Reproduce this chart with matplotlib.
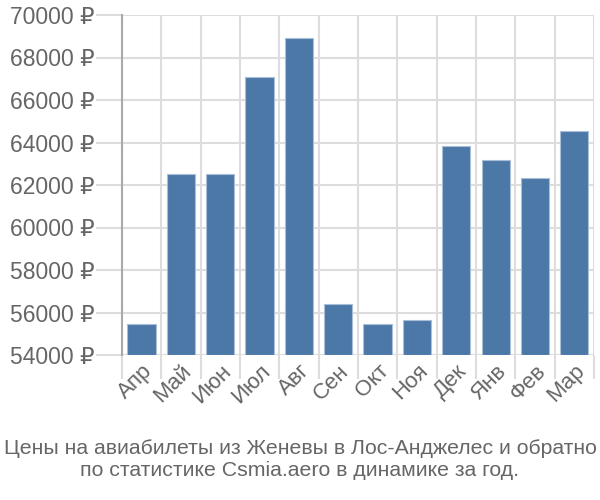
import matplotlib
matplotlib.use("Agg")
import matplotlib.pyplot as plt
from matplotlib import font_manager
import numpy as np

months = ['Апр', 'Май', 'Июн', 'Июл', 'Авг', 'Сен', 'Окт', 'Ноя', 'Дек', 'Янв', 'Фев', 'Мар']
prices = [55470, 62510, 62510, 67070, 68900, 56400, 55470, 55660, 63820, 63160, 62330, 64560]
yticks = [54000, 56000, 58000, 60000, 62000, 64000, 66000, 68000, 70000]
title = ('Цены на авиабилеты из Женевы в Лос-Анджелес и обратно\n'
         'по статистике Csmia.aero в динамике за год.')

plt.rcParams['font.family'] = ['Liberation Sans', 'DejaVu Sans']
grey = '#666666'

names = {f.name for f in font_manager.fontManager.ttflist}
if 'Liberation Sans Narrow' in names:
    title_font, title_size = 'Liberation Sans Narrow', 17
else:
    title_font, title_size = 'Liberation Sans', 15.3

fig = plt.figure(figsize=(6, 5), dpi=100)
ax = fig.add_axes([0.2033, 0.29, 0.7867, 0.68])

x = np.arange(len(months))
ax.bar(x, np.array(prices) - yticks[0], bottom=yticks[0], width=0.72,
       color='#4c78a8', edgecolor='#a9bfd8', linewidth=0.8, zorder=3)

ax.set_xlim(-0.5, len(months) - 0.5)
ax.set_ylim(yticks[0], yticks[-1])
ax.set_yticks(yticks)
ax.set_yticklabels([f'{v} ₽' for v in yticks], fontsize=16.5, color=grey)

# grid on category boundaries
ax.set_xticks(np.arange(-0.5, len(months) + 0.5, 1), minor=False)
ax.set_xticklabels([])
ax.set_xticks(x, minor=True)
ax.set_xticklabels(months, minor=True, rotation=45, ha='right',
                   rotation_mode='anchor', fontsize=16, color=grey)
ax.tick_params(axis='x', which='minor', length=0, pad=4)
ax.tick_params(axis='x', which='major', length=17, color='#dddddd', width=1.5)
ax.tick_params(axis='y', length=19, color='#dddddd', width=1.5, pad=1)

ax.grid(True, which='major', color='#dddddd', linewidth=1.5, zorder=0)
for s in ['top', 'right', 'bottom']:
    ax.spines[s].set_visible(False)
ax.spines['left'].set_color('#aaaaaa')
ax.spines['left'].set_linewidth(1.5)

fig.text(0.5, 0.04, title, ha='center', va='bottom', fontsize=title_size,
         color=grey, linespacing=1.2, family=[title_font, 'DejaVu Sans'])

fig.savefig('out.png', dpi=100)
